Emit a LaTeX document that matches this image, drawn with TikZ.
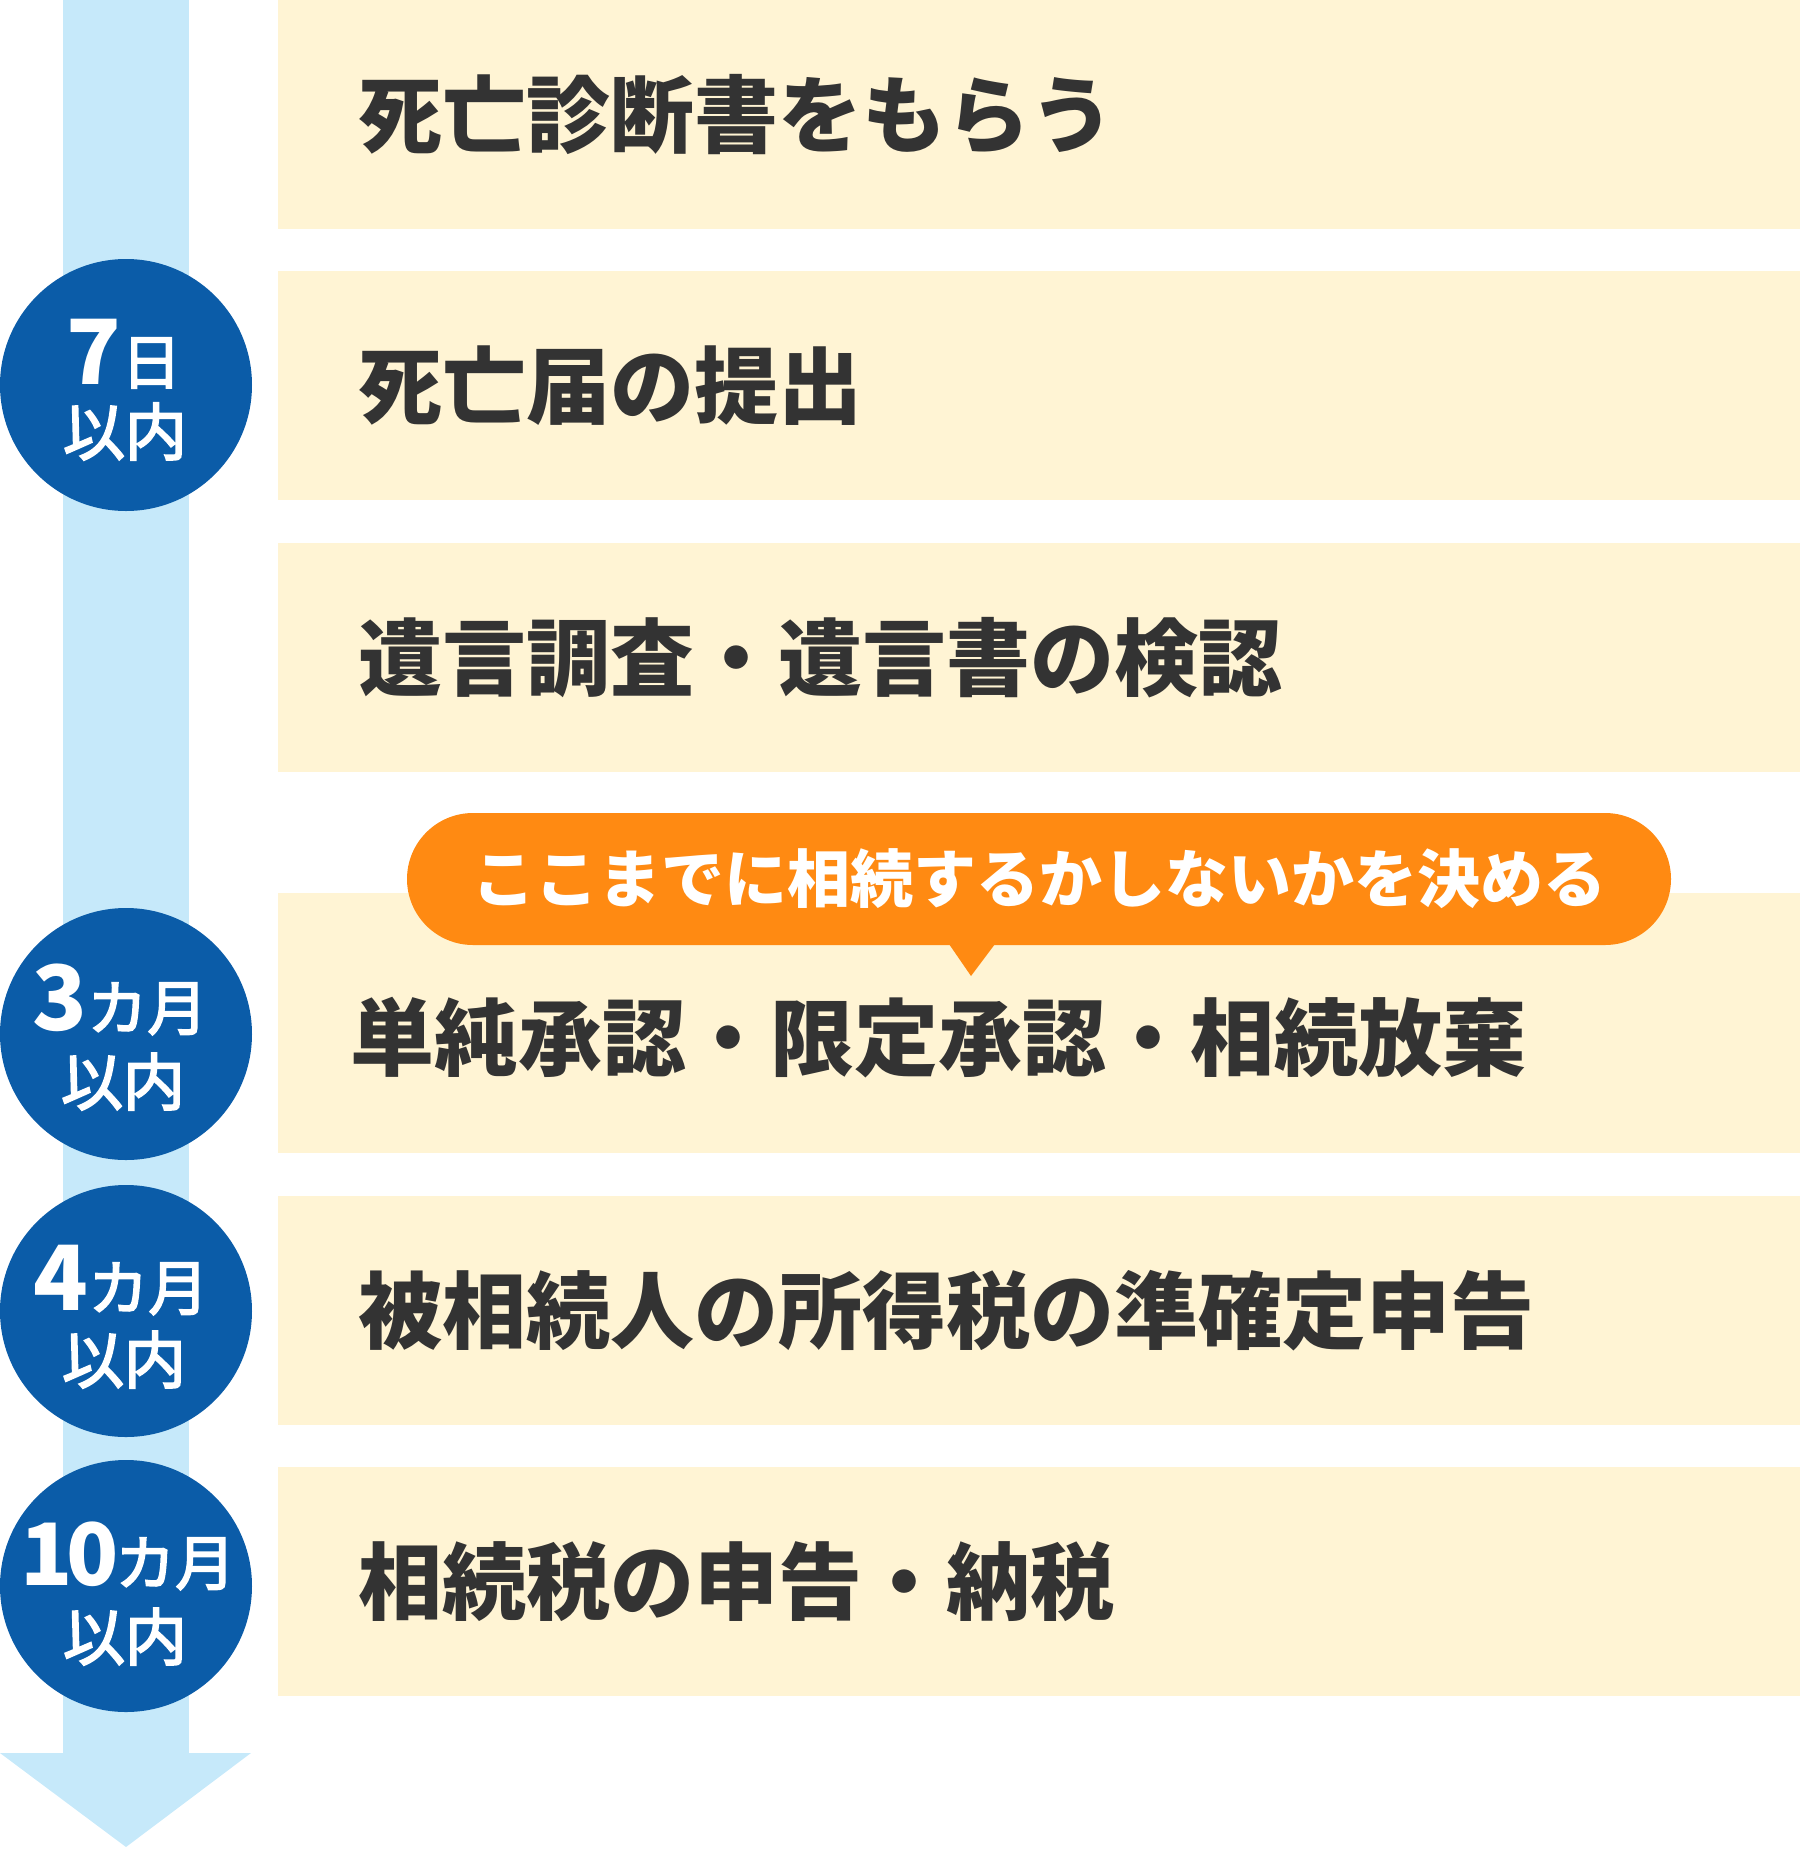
\documentclass[tikz,border=0pt]{standalone}
\usepackage{fontspec}
\newfontfamily\jp{Noto Sans CJK JP}
\newfontfamily\jpmed[FakeBold=3]{Noto Sans CJK JP}
\definecolor{arrowblue}{RGB}{198,233,250}
\definecolor{circblue}{RGB}{11,92,168}
\definecolor{cream}{RGB}{255,244,212}
\definecolor{orangec}{RGB}{255,138,18}
\definecolor{textdark}{RGB}{51,51,51}
\tikzset{
  stepbox/.style={rectangle, fill=cream, draw=none, minimum width=1522pt, inner sep=0pt},
  steptext/.style={anchor=west, inner sep=0pt, text=textdark, font=\jp\bfseries\fontsize{84}{84}\selectfont},
  circ/.style={circle, fill=circblue, draw=none, minimum size=252pt, inner sep=0pt},
  circline/.style={anchor=base, inner sep=0pt, text=white},
  bubble/.style={rectangle, rounded corners=66pt, fill=orangec, draw=none, minimum width=1264pt, minimum height=132pt, inner sep=0pt, text=white, font=\jp\bfseries\fontsize{63}{63}\selectfont}
}
\newcommand\bignum[1]{{\jp\bfseries\fontsize{90}{90}\selectfont #1}}
\newcommand\tennum[1]{{\jp\bfseries\fontsize{86}{86}\selectfont #1}}
\newcommand\smallunit[1]{{\jpmed\fontsize{60}{60}\selectfont #1}}
\newcommand\secline[1]{{\jpmed\fontsize{62}{62}\selectfont #1}}
\begin{document}
\begin{tikzpicture}[x=1pt,y=-1pt]
\useasboundingbox (0,0) rectangle (1800,1858);
% timeline arrow
\fill[arrowblue] (63,0) rectangle (189,1753);
\fill[arrowblue] (0,1753) -- (251,1753) -- (126,1847) -- cycle;
% step boxes
\node[stepbox, minimum height=229pt] (b1) at (1039,114.5) {};
\node[stepbox, minimum height=229pt] (b2) at (1039,385.5) {};
\node[stepbox, minimum height=229pt] (b3) at (1039,657.5) {};
\node[stepbox, minimum height=260pt] (b4) at (1039,1023) {};
\node[stepbox, minimum height=229pt] (b5) at (1039,1310.5) {};
\node[stepbox, minimum height=229pt] (b6) at (1039,1581.5) {};
% step texts
\node[steptext] (t1) at (358,114.5) {死亡診断書をもらう};
\node[steptext] (t2) at (358,385.5) {死亡届の提出};
\node[steptext] (t3) at (358,657.5) {遺言調査・遺言書の検認};
\node[steptext] (t4) at (350,1038) {単純承認・限定承認・相続放棄};
\node[steptext] (t5) at (358,1310.5) {被相続人の所得税の準確定申告};
\node[steptext] (t6) at (358,1581.5) {相続税の申告・納税};
% deadline circles
\node[circ] (c1) at (126,385) {};
\node[circ] (c2) at (126,1034) {};
\node[circ] (c3) at (126,1311) {};
\node[circ] (c4) at (126,1586) {};
\node[circline] (c1a) at (124,384) {\bignum{7}\smallunit{日}};
\node[circline] (c1b) at (125,455) {\secline{以内}};
\node[circline] (c2a) at (120,1030) {\bignum{3}\smallunit{カ月}};
\node[circline] (c2b) at (123,1105) {\secline{以内}};
\node[circline] (c3a) at (121,1310) {\bignum{4}\smallunit{カ月}};
\node[circline] (c3b) at (124,1383) {\secline{以内}};
\node[circline] (c4a) at (128,1585) {\tennum{1\kern-7pt 0}\kern-3pt\smallunit{カ月}};
\node[circline] (c4b) at (125,1660) {\secline{以内}};
% callout bubble
\node[bubble] (bub) at (1039,879) {ここまでに相続するかしないかを決める};
\fill[orangec] (949,944) -- (995,944) -- (971,976) -- cycle;
\end{tikzpicture}
\end{document}
